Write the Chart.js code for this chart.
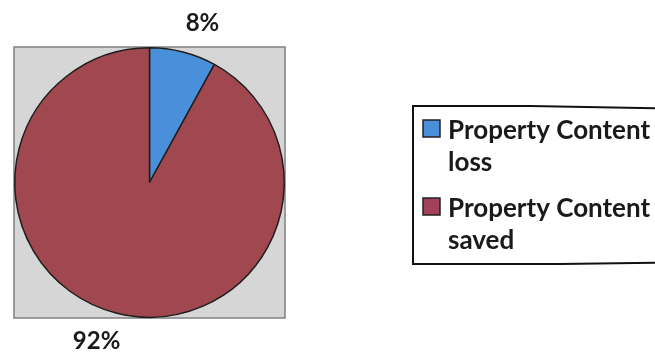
<!DOCTYPE html>
<html>
<head>
<meta charset="utf-8">
<script src="https://cdn.jsdelivr.net/npm/chart.js@4"></script>
<style>
  html, body { margin: 0; padding: 0; background: #ffffff; }
  #wrap { width: 655px; height: 356px; position: relative; }
</style>
</head>
<body>
<div id="wrap"><canvas id="c" width="655" height="356"></canvas></div>
<script>
// ---- data ----
const categories = ['Property Content loss', 'Property Content saved'];
const legendLines = [['Property Content', 'loss'], ['Property Content', 'saved']];
const values = [8, 92];
const percentLabels = ['8%', '92%'];
const sliceColors = ['#4a8fd9', '#a0474f'];
const legendSwatchColors = ['#4a8fd9', '#a3405c'];

const FONT = 'Lato, "Open Sans", sans-serif';

const plotBackground = {
  id: 'plotBackground',
  beforeDraw(chart) {
    const { ctx, chartArea: a } = chart;
    ctx.save();
    ctx.fillStyle = '#d6d6d6';
    ctx.fillRect(a.left, a.top, a.right - a.left, a.bottom - a.top);
    ctx.strokeStyle = '#808080';
    ctx.lineWidth = 1.5;
    ctx.strokeRect(a.left, a.top, a.right - a.left, a.bottom - a.top);
    ctx.restore();
  }
};

const outsideLabels = {
  id: 'outsideLabels',
  afterDatasetsDraw(chart) {
    const { ctx } = chart;
    const meta = chart.getDatasetMeta(0);
    ctx.save();
    ctx.fillStyle = '#1a1a1a';
    ctx.font = 'bold 24px ' + FONT;
    ctx.textAlign = 'center';
    ctx.textBaseline = 'middle';
    meta.data.forEach((arc, i) => {
      const p = arc.getProps(['x', 'y', 'startAngle', 'endAngle', 'outerRadius'], true);
      const mid = (p.startAngle + p.endAngle) / 2 + 4 * Math.PI / 180;
      const d = p.outerRadius + 33;
      ctx.fillText(percentLabels[i], p.x + Math.cos(mid) * d, p.y + Math.sin(mid) * d);
    });
    ctx.restore();
  }
};

const boxLegend = {
  id: 'boxLegend',
  afterDraw(chart) {
    const { ctx } = chart;
    ctx.save();
    // frame
    ctx.strokeStyle = '#111';
    ctx.lineWidth = 2;
    ctx.beginPath();
    ctx.moveTo(700, 109);
    ctx.lineTo(530, 106);
    ctx.lineTo(413, 106);
    ctx.lineTo(413, 264);
    ctx.lineTo(560, 264);
    ctx.lineTo(700, 262);
    ctx.stroke();
    // items
    ctx.font = 'bold 26px ' + FONT;
    ctx.textAlign = 'left';
    ctx.textBaseline = 'alphabetic';
    legendLines.forEach((lines, i) => {
      const base = 139 + i * 78;
      ctx.fillStyle = legendSwatchColors[i];
      ctx.fillRect(423, base - 19, 17, 17);
      ctx.strokeStyle = '#222';
      ctx.lineWidth = 1.5;
      ctx.strokeRect(423, base - 19, 17, 17);
      ctx.fillStyle = '#1a1a1a';
      lines.forEach((t, j) => ctx.fillText(t, 448, base + j * 32));
    });
    ctx.restore();
  }
};

new Chart(document.getElementById('c'), {
  type: 'pie',
  data: {
    labels: categories,
    datasets: [{
      data: values,
      backgroundColor: sliceColors,
      borderColor: '#1e1e1e',
      borderWidth: 1.5
    }]
  },
  options: {
    responsive: false,
    animation: false,
    layout: { padding: { left: 14, top: 47, right: 370, bottom: 38 } },
    plugins: {
      legend: { display: false },
      tooltip: { enabled: false }
    }
  },
  plugins: [plotBackground, outsideLabels, boxLegend]
});
</script>
</body>
</html>
